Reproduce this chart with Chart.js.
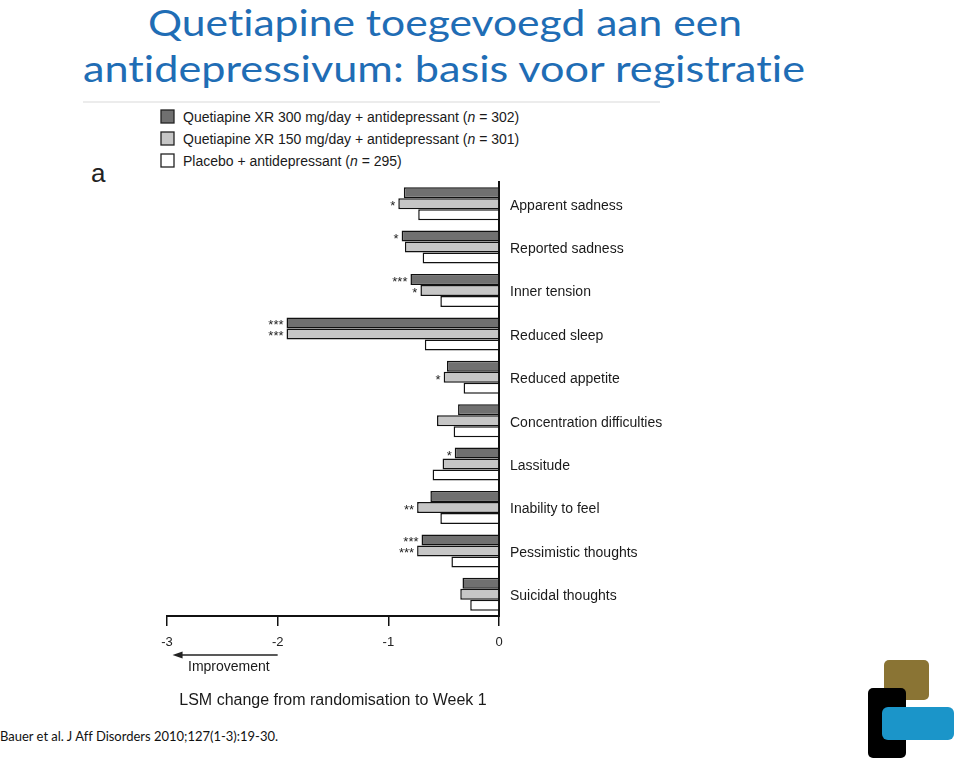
<!DOCTYPE html>
<html>
<head>
<meta charset="utf-8">
<script src="https://cdn.jsdelivr.net/npm/chart.js@4"></script>
<style>
html,body{margin:0;padding:0;background:#fff;width:960px;height:759px;overflow:hidden;}
#wrap{position:relative;width:960px;height:759px;}
#c{position:absolute;left:0;top:0;}
svg{position:absolute;left:0;top:0;}
svg text{font-variant-ligatures:none;font-feature-settings:"liga" 0, "clig" 0;}
</style>
</head>
<body>
<div id="wrap">
<svg width="960" height="759" xmlns="http://www.w3.org/2000/svg">
  <text x="148" y="36" font-family="Lato, 'Open Sans', sans-serif" font-size="37" fill="#1f6db5" textLength="594" lengthAdjust="spacingAndGlyphs">Quetiapine toegevoegd aan een</text>
  <text x="83" y="82" font-family="Lato, 'Open Sans', sans-serif" font-size="37" fill="#1f6db5" textLength="722" lengthAdjust="spacingAndGlyphs">antidepressivum: basis voor registratie</text>
  <line x1="83" y1="102" x2="660" y2="102" stroke="#ececec" stroke-width="2"/>
  <text x="91" y="182" font-family="'Liberation Sans', Arial, sans-serif" font-size="26" fill="#222">a</text>
  <g id="legend" font-family="'Liberation Sans', Arial, sans-serif" font-size="14" fill="#1a1a1a"></g>
  <text x="0" y="741" font-family="Lato, 'Open Sans', sans-serif" font-size="13.5" fill="#111" textLength="278" lengthAdjust="spacingAndGlyphs">Bauer et al. J Aff Disorders 2010;127(1-3):19-30.</text>
  <rect x="884" y="660" width="45" height="40" rx="5" fill="#8a7434"/>
  <rect x="868" y="688" width="38" height="70" rx="5" fill="#000"/>
  <rect x="882" y="707" width="72" height="33" rx="6" fill="#1b95c9"/>
</svg>
<canvas id="c" width="960" height="759"></canvas>
</div>
<script>
const categories = ['Apparent sadness','Reported sadness','Inner tension','Reduced sleep','Reduced appetite','Concentration difficulties','Lassitude','Inability to feel','Pessimistic thoughts','Suicidal thoughts'];
const seriesNames = ['Quetiapine XR 300 mg/day + antidepressant', 'Quetiapine XR 150 mg/day + antidepressant', 'Placebo + antidepressant'];
const seriesN = ['302','301','295'];
const q300 = [-0.86,-0.88,-0.80,-1.92,-0.47,-0.37,-0.40,-0.62,-0.70,-0.33];
const q150 = [-0.91,-0.85,-0.71,-1.92,-0.50,-0.56,-0.51,-0.74,-0.74,-0.35];
const placebo = [-0.73,-0.69,-0.53,-0.67,-0.32,-0.41,-0.60,-0.53,-0.43,-0.26];
const sig300 = ['','*','***','***','','','*','','***',''];
const sig150 = ['*','','*','***','*','','','**','***',''];
const sigPlacebo = ['','','','','','','','','',''];
const xTicks = [-3,-2,-1,0];
const xTitle = 'LSM change from randomisation to Week 1';
const arrowLabel = 'Improvement';

const colors = ['#707070','#c6c6c6','#ffffff'];

// legend (SVG, real text)
const NS = 'http://www.w3.org/2000/svg';
const lg = document.getElementById('legend');
seriesNames.forEach((name, i) => {
  const y = 110 + i * 22;
  const r = document.createElementNS(NS, 'rect');
  r.setAttribute('x', 161); r.setAttribute('y', y); r.setAttribute('width', 13); r.setAttribute('height', 13);
  r.setAttribute('fill', colors[i]); r.setAttribute('stroke', '#222'); r.setAttribute('stroke-width', '1.3');
  lg.appendChild(r);
  const t = document.createElementNS(NS, 'text');
  t.setAttribute('x', 183); t.setAttribute('y', y + 11.5);
  t.appendChild(document.createTextNode(name + ' ('));
  const ts = document.createElementNS(NS, 'tspan');
  ts.setAttribute('font-style', 'italic'); ts.textContent = 'n';
  t.appendChild(ts);
  t.appendChild(document.createTextNode(' = ' + seriesN[i] + ')'));
  lg.appendChild(t);
});

const sigs = [sig300, sig150, sigPlacebo];

const starPlugin = {
  id: 'stars',
  afterDatasetsDraw(chart) {
    const ctx = chart.ctx;
    ctx.save();
    ctx.font = '13px "Liberation Sans", Arial, sans-serif';
    ctx.fillStyle = '#222';
    ctx.textAlign = 'right';
    ctx.textBaseline = 'middle';
    chart.data.datasets.forEach((ds, di) => {
      const meta = chart.getDatasetMeta(di);
      meta.data.forEach((el, i) => {
        const s = sigs[di][i];
        if (s) ctx.fillText(s, el.x - 3, el.y + 3);
      });
    });
    ctx.restore();
  },
  afterDraw(chart) {
    const ctx = chart.ctx;
    const xs = chart.scales.x;
    const area = chart.chartArea;
    ctx.save();
    const x1 = xs.getPixelForValue(-2);
    const x0 = xs.getPixelForValue(-2.95);
    const ay = 655;
    ctx.strokeStyle = '#222';
    ctx.lineWidth = 1.3;
    ctx.beginPath(); ctx.moveTo(x1, ay); ctx.lineTo(x0 + 6, ay); ctx.stroke();
    ctx.fillStyle = '#222';
    ctx.beginPath(); ctx.moveTo(x0, ay); ctx.lineTo(x0 + 10, ay - 3.5); ctx.lineTo(x0 + 10, ay + 3.5); ctx.closePath(); ctx.fill();
    ctx.font = '14px "Liberation Sans", Arial, sans-serif';
    ctx.textAlign = 'left'; ctx.textBaseline = 'middle';
    ctx.fillStyle = '#1a1a1a';
    ctx.fillText(arrowLabel, 188, 667);
    ctx.font = '16px "Liberation Sans", Arial, sans-serif';
    ctx.textAlign = 'center';
    ctx.fillText(xTitle, (area.left + area.right) / 2, 701);
    ctx.restore();
  }
};

new Chart(document.getElementById('c'), {
  type: 'bar',
  data: {
    labels: categories,
    datasets: [
      { label: seriesNames[0], data: q300, backgroundColor: colors[0] },
      { label: seriesNames[1], data: q150, backgroundColor: colors[1] },
      { label: seriesNames[2], data: placebo, backgroundColor: colors[2] }
    ].map(d => Object.assign(d, { borderColor: '#111', borderWidth: 1.5, categoryPercentage: 0.76, barPercentage: 1.0 }))
  },
  options: {
    indexAxis: 'y',
    responsive: false,
    animation: false,
    devicePixelRatio: 1,
    layout: { padding: { left: 167, top: 182, right: 0, bottom: 0 } },
    plugins: { legend: { display: false }, tooltip: { enabled: false }, title: { display: false } },
    scales: {
      x: {
        type: 'linear', position: 'bottom', min: -3, max: 0,
        afterBuildTicks(s) { s.ticks = xTicks.map(v => ({ value: v })); },
        afterFit(s) { s.height = 143; },
        grid: { display: true, drawOnChartArea: false, drawTicks: true, tickLength: 10, color: '#111', lineWidth: 1.5 },
        border: { display: true, color: '#111', width: 2 },
        ticks: { color: '#222', padding: 9, font: { size: 13, family: '"Liberation Sans", Arial, sans-serif' }, callback: v => String(v), maxRotation: 0 }
      },
      y: {
        type: 'category', position: 'right',
        afterFit(s) { s.width = 461; },
        grid: { display: false, drawTicks: false },
        border: { display: true, color: '#111', width: 2 },
        ticks: { color: '#1a1a1a', padding: 11, labelOffset: 2, font: { size: 14, family: '"Liberation Sans", Arial, sans-serif' } }
      }
    }
  },
  plugins: [starPlugin]
});
</script>
</body>
</html>
